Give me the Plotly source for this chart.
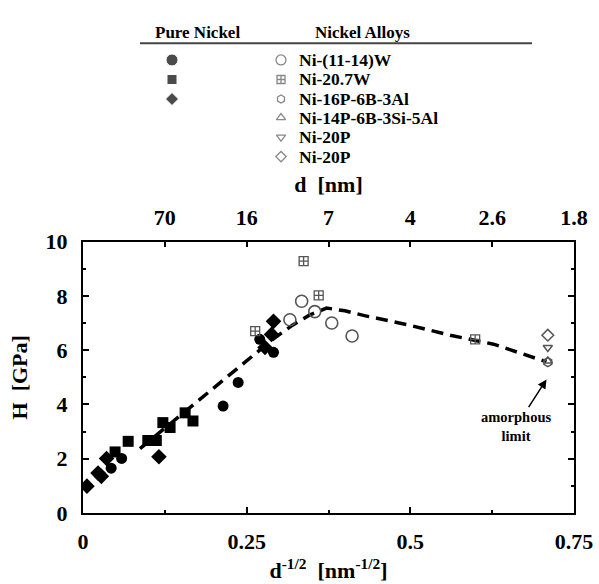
import plotly.graph_objects as go

# ---------------- data (x = d^-1/2 [nm^-1/2], y = H [GPa]) ----------------
ni_circle_x = [0.043, 0.059, 0.214, 0.237, 0.270, 0.291]
ni_circle_y = [1.65, 2.01, 3.94, 4.81, 6.40, 5.92]
ni_square_x = [0.049, 0.069, 0.099, 0.112, 0.122, 0.133, 0.156, 0.168]
ni_square_y = [2.25, 2.64, 2.67, 2.67, 3.33, 3.15, 3.69, 3.39]
ni_diamond_x = [0.006, 0.023, 0.028, 0.036, 0.116, 0.278, 0.288, 0.291]
ni_diamond_y = [0.99, 1.47, 1.35, 2.01, 2.07, 6.10, 6.58, 7.06]

niw_x = [0.316, 0.334, 0.354, 0.380, 0.411]
niw_y = [7.12, 7.80, 7.42, 7.00, 6.52]
ni207w_x = [0.263, 0.337, 0.360, 0.599]
ni207w_y = [6.70, 9.28, 8.02, 6.40]
ni16p_x = [0.710]
ni16p_y = [5.56]
ni14p_x = [0.710]
ni14p_y = [5.60]
ni20p_tri_x = [0.710]
ni20p_tri_y = [6.10]
ni20p_dia_x = [0.710]
ni20p_dia_y = [6.55]

fit_x = [0.087, 0.15, 0.20, 0.25, 0.29, 0.32, 0.345, 0.372, 0.40, 0.43, 0.495, 0.561, 0.627, 0.694, 0.708]
fit_y = [2.37, 3.62, 4.62, 5.62, 6.40, 6.92, 7.28, 7.55, 7.45, 7.27, 6.94, 6.55, 6.22, 5.68, 5.58]

bottom_ticks = [0, 0.25, 0.5, 0.75]
bottom_labels = ["0", "0.25", "0.5", "0.75"]
top_ticks = [0.125, 0.25, 0.375, 0.5, 0.625, 0.75]
top_labels = ["70", "16", "7", "4", "2.6", "1.8"]

alloy_names = ["Ni-(11-14)W", "Ni-20.7W", "Ni-16P-6B-3Al", "Ni-14P-6B-3Si-5Al", "Ni-20P", "Ni-20P"]
alloy_symbols = ["circle-open", "square-cross-open", "hexagon-open", "triangle-up-open", "triangle-down-open", "diamond-open"]
pure_symbols = ["circle", "square", "diamond"]

# ---------------- layout geometry (pixels) ----------------
W, H = 599, 584
ML, MR, MT, MB = 83, 25, 5, 71
PLOT_TOP = 235           # pixel y of the main frame top
LEG_BOTTOM = 208         # pixel y of legend-area bottom
plot_h = H - MT - MB
main_top = 1 - (PLOT_TOP - MT) / plot_h
leg_bot = 1 - (LEG_BOTTOM - MT) / plot_h

FONT = "Liberation Serif"
BLACK = "#000000"
GRAY = "#555555"
bold = dict(family=FONT, color=BLACK, weight="bold")

fig = go.Figure()

# fit curve
fig.add_trace(go.Scatter(x=fit_x, y=fit_y, mode="lines",
                         line=dict(color=BLACK, width=3.5, dash="12px,7px"),
                         showlegend=False, hoverinfo="skip"))

def pts(x, y, sym, size, color, lw=1.5):
    fig.add_trace(go.Scatter(x=x, y=y, mode="markers", showlegend=False,
                             marker=dict(symbol=sym, size=size, color=color,
                                         line=dict(color=color, width=lw))))

pts(ni_circle_x, ni_circle_y, "circle", 11, BLACK, 0)
pts(ni_square_x, ni_square_y, "square", 11, BLACK, 0)
pts(ni_diamond_x, ni_diamond_y, "diamond", 12, BLACK, 0)
pts(niw_x, niw_y, "circle-open", 12, GRAY, 1.6)
pts(ni207w_x, ni207w_y, "square-cross-open", 9, GRAY, 1.3)
pts(ni16p_x, ni16p_y, "hexagon-open", 9, GRAY, 1.5)
pts(ni14p_x, ni14p_y, "triangle-up-open", 8, GRAY, 1.5)
pts(ni20p_tri_x, ni20p_tri_y, "triangle-down-open", 8, GRAY, 1.5)
pts(ni20p_dia_x, ni20p_dia_y, "diamond-open", 9, GRAY, 1.5)

# invisible trace on the top axis so it is drawn
fig.add_trace(go.Scatter(x=[0, 0.75], y=[0, 0], xaxis="x3", yaxis="y", mode="markers",
                         marker=dict(opacity=0), showlegend=False, hoverinfo="skip"))

# ---------------- legend drawn in a hidden pixel-scaled axis ----------------
pure_x = 172
alloy_x = 281
text_x = 297
row_y = [49, 69, 89, 108, 128, 148]
fig.add_trace(go.Scatter(x=[pure_x] * 3, y=row_y[:3], xaxis="x2", yaxis="y2", mode="markers",
                         showlegend=False, hoverinfo="skip",
                         marker=dict(symbol=pure_symbols, size=[12, 10, 10], color=BLACK)))
fig.add_trace(go.Scatter(x=[alloy_x] * 6, y=row_y, xaxis="x2", yaxis="y2", mode="markers",
                         showlegend=False, hoverinfo="skip",
                         marker=dict(symbol=alloy_symbols, size=[10, 8, 8, 8, 8, 8], color=GRAY,
                                     line=dict(color=GRAY, width=1.3))))
for name, yy in zip(alloy_names, row_y):
    fig.add_annotation(x=text_x, y=yy, xref="x2", yref="y2", text=name, showarrow=False,
                       xanchor="left", yanchor="middle", font=dict(size=17.5, **bold))
fig.add_annotation(x=197, y=21, xref="x2", yref="y2", text="Pure Nickel", showarrow=False,
                   font=dict(size=17, **bold))
fig.add_annotation(x=362, y=21, xref="x2", yref="y2", text="Nickel Alloys", showarrow=False,
                   font=dict(size=17, **bold))
fig.add_shape(type="line", x0=140, x1=532, y0=32, y1=32, xref="x2", yref="y2",
              line=dict(color="#444444", width=2))

# amorphous limit annotation with arrow to the amorphous points
fig.add_annotation(x=0.708, y=4.92, ax=0.662, ay=3.2, xref="x", yref="y", axref="x", ayref="y",
                   text="amorphous<br>limit", showarrow=True, arrowhead=2, arrowsize=1.2,
                   arrowwidth=1.5, arrowcolor=BLACK, standoff=0,
                   font=dict(size=14.5, **bold))

tickfont = dict(size=22, **bold)
titlefont = dict(size=22, **bold)
axis_common = dict(showgrid=False, zeroline=False, showline=True, linecolor=BLACK, linewidth=2,
                   ticks="inside", tickcolor=BLACK, tickwidth=1.5, tickfont=tickfont)

fig.update_layout(
    width=W, height=H,
    margin=dict(l=ML, r=MR, t=MT, b=MB, pad=0),
    paper_bgcolor="white", plot_bgcolor="white",
    showlegend=False,
    xaxis=dict(range=[0, 0.75], tickvals=bottom_ticks, ticktext=bottom_labels, ticklen=6,
               mirror=True, domain=[0, 1], anchor="y", ticklabelstandoff=8,
               minor=dict(tickvals=[0.125, 0.375, 0.625], ticks="inside", ticklen=3,
                          tickcolor=BLACK, tickwidth=1.5),
               title=dict(text="d<sup>-1/2</sup>  [nm<sup>-1/2</sup>]", standoff=9, font=titlefont),
               **axis_common),
    yaxis=dict(range=[0, 10], tickvals=[0, 2, 4, 6, 8, 10], ticklen=6, mirror="ticks",
               domain=[0, main_top], anchor="x", ticklabelstandoff=9,
               minor=dict(tickvals=[1, 3, 5, 7, 9], ticks="inside", ticklen=3,
                          tickcolor=BLACK, tickwidth=1.5),
               title=dict(text="H  [GPa]", standoff=12, font=titlefont),
               **axis_common),
    xaxis3=dict(range=[0, 0.75], tickvals=top_ticks, ticktext=top_labels, ticklen=5,
                overlaying="x", side="top", anchor="y", ticklabelstandoff=6,
                title=dict(text="d  [nm]", standoff=6, font=titlefont),
                **axis_common),
    xaxis2=dict(range=[ML, W - MR], domain=[0, 1], anchor="y2", visible=False, fixedrange=True),
    yaxis2=dict(range=[LEG_BOTTOM, MT], domain=[leg_bot, 1], anchor="x2", visible=False,
                fixedrange=True),
)

fig.write_html("out.html")
